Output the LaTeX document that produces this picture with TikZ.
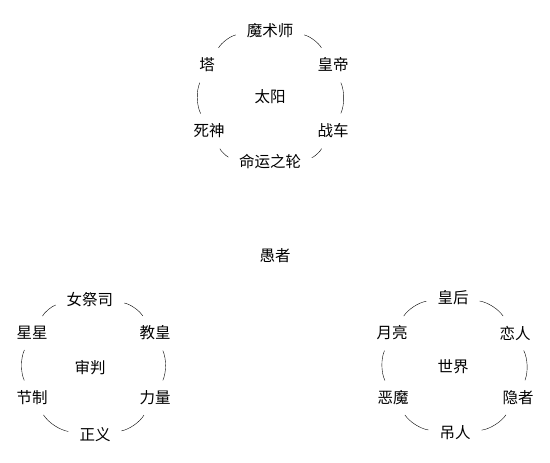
\documentclass[tikz,border=0pt]{standalone}
\usepackage{fontspec}
\newfontfamily\cjk{Noto Sans CJK SC}
\usetikzlibrary{positioning}

\begin{document}
\begin{tikzpicture}[x=1pt,y=1pt,
    card/.style={font=\cjk\fontsize{15.5}{15.5}\selectfont, inner sep=2pt},
    ring/.style={thin, bend left=24, shorten <=9pt, shorten >=9pt}]
\useasboundingbox (0,0) rectangle (550,463);
% Top ring
\begin{scope}[shift={(270,366)}]
    \node[card] (sun) at (0,0) {太阳};
    \node[card] (magician) at (0,66) {魔术师};
    \node[card] (emperor) at (63,32) {皇帝};
    \node[card] (chariot) at (63,-34) {战车};
    \node[card] (wheel) at (0,-65) {命运之轮};
    \node[card] (death) at (-61,-34) {死神};
    \node[card] (tower) at (-63,32) {塔};
\end{scope}
\foreach \a/\b in {magician/emperor, emperor/chariot, chariot/wheel,
                   wheel/death, death/tower, tower/magician}
    \draw[ring] (\a) to (\b);
% Fool
\node[card] (fool) at (275,207) {愚者};
% Lower left ring
\begin{scope}[shift={(90,95)}]
    \node[card] (judgement) at (0,0) {审判};
    \node[card] (priestess) at (0,68) {女祭司};
    \node[card] (hierophant) at (65,35) {教皇};
    \node[card] (strength) at (65,-30) {力量};
    \node[card] (justice) at (5,-67) {正义};
    \node[card] (temperance) at (-58,-30) {节制};
    \node[card] (star) at (-58,35) {星星};
\end{scope}
\foreach \a/\b in {priestess/hierophant, hierophant/strength, strength/justice,
                   justice/temperance, temperance/star, star/priestess}
    \draw[ring] (\a) to (\b);
% Lower right ring
\begin{scope}[shift={(453,96)}]
    \node[card] (world) at (0,0) {世界};
    \node[card] (empress) at (0,69) {皇后};
    \node[card] (lovers) at (62,34) {恋人};
    \node[card] (hermit) at (65,-31) {隐者};
    \node[card] (hanged) at (2,-66) {吊人};
    \node[card] (devil) at (-60,-31) {恶魔};
    \node[card] (moon) at (-61,34) {月亮};
\end{scope}
\foreach \a/\b in {empress/lovers, lovers/hermit, hermit/hanged,
                   hanged/devil, devil/moon, moon/empress}
    \draw[ring] (\a) to (\b);
\end{tikzpicture}
\end{document}
